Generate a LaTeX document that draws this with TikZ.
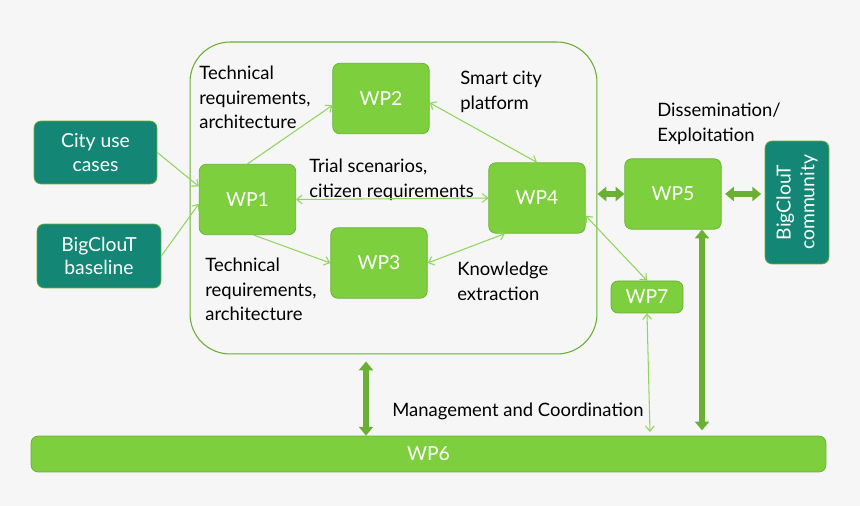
\documentclass[tikz,border=0pt]{standalone}
\usepackage{fontspec}
\setmainfont{Lato}
\usepackage{tikz}
\usetikzlibrary{arrows.meta,positioning,calc}
\definecolor{wpGreen}{RGB}{126,207,62}
\definecolor{wpEdge}{RGB}{104,174,50}
\definecolor{wpTeal}{RGB}{20,134,117}
\definecolor{wpLine}{RGB}{142,214,92}
\definecolor{wpBack}{RGB}{246,246,246}

\tikzset{
  wpbox/.style={draw=wpEdge, fill=wpGreen, rounded corners=4pt, text=white,
    minimum width=1.93cm, minimum height=1.41cm, font=\fontsize{11}{13}\selectfont},
  usecase/.style={draw=wpEdge, fill=wpTeal, rounded corners=4pt, text=white, align=center,
    font=\fontsize{11}{13.6}\selectfont},
  lbl/.style={anchor=north west, align=left, inner sep=0pt, font=\fontsize{10.5}{13.8}\selectfont},
  thinarrow/.style={draw=wpLine, line width=0.6pt, -{Straight Barb[length=3pt,width=5pt]}},
  thinboth/.style={draw=wpLine, line width=0.6pt, {Straight Barb[length=3pt,width=5pt]}-{Straight Barb[length=3pt,width=5pt]}},
  fatarrow/.style={draw=wpEdge!90!wpGreen, line width=3pt,
    {Triangle[length=5pt,width=8pt]}-{Triangle[length=5pt,width=8pt]}}
}

\begin{document}
\begin{tikzpicture}[x=0.02cm, y=-0.02cm]
  % background
  \fill[wpBack] (0,0) rectangle (860,506);
  \useasboundingbox (0,0) rectangle (860,506);
  % Trial frame
  \node[draw=wpEdge, line width=0.6pt, rounded corners=0.8cm, minimum width=8.14cm, minimum height=6.24cm] (frame) at (393.5,198) {};
  % Work packages
  \node[wpbox] (wp1) at (247.5,199.5) {WP1};
  \node[wpbox] (wp2) at (381,98.5) {WP2};
  \node[wpbox] (wp3) at (379,263) {WP3};
  \node[wpbox] (wp4) at (537,198) {WP4};
  \node[wpbox] (wp5) at (673,194) {WP5};
  \node[wpbox, minimum width=1.44cm, minimum height=0.64cm] (wp7) at (647,297) {WP7};
  \node[wpbox, minimum width=15.9cm, minimum height=0.72cm] (wp6) at (428.5,454) {WP6};
  % Inputs and community
  \node[usecase, minimum width=2.46cm, minimum height=1.26cm] (city) at (95.5,152.5) {City use\\cases};
  \node[usecase, minimum width=2.48cm, minimum height=1.28cm] (base) at (99,256) {BigClouT\\baseline};
  \node[usecase, rotate=90, minimum width=2.46cm, minimum height=1.28cm] (comm) at (797,202.5) {BigClouT\\community};
  % Labels
  \node[lbl] (tech1) at (199,66) {Technical\\requirements,\\architecture};
  \node[lbl] (smart) at (460,71) {Smart city\\platform};
  \node[lbl] (trial) at (309,159) {Trial scenarios,\\citizen requirements};
  \node[lbl] (tech2) at (205,258) {Technical\\requirements,\\architecture};
  \node[lbl] (know) at (457,262) {Knowledge\\extraction};
  \node[lbl] (dissem) at (657,103) {Dissemination/\\Exploitation};
  \node[lbl, anchor=west] (mgmt) at (392,411) {Management and Coordination};
  % Coordinates for vertical links
  \coordinate (mc) at (366,0);
  \coordinate (m5) at (702,0);
  \coordinate (m7) at (650,432);
  % Thin links
  \draw[thinarrow] (city.east) -- (wp1.165);
  \draw[thinarrow] (base.east) -- (wp1.185);
  \draw[thinarrow] (wp1.north) -- (wp2.-172);
  \draw[thinarrow] (wp1.-80) -- (wp3.west);
  \draw[thinboth] (wp4.west) -- (wp1.east);
  \draw[thinboth] (wp2.-5) -- (wp4.north);
  \draw[thinboth] (wp4.-132) -- (wp3.east);
  \draw[thinboth] (wp4.-20) -- (wp7.north);
  \draw[thinboth] (wp7.south) -- (m7);
  % Fat links
  \draw[fatarrow] (frame.east |- wp5.west) -- (wp5.west);
  \draw[fatarrow, shorten <=2pt, shorten >=2pt] (wp5.east) -- (wp5.east -| comm.north);
  \draw[fatarrow, shorten <=4pt] (frame.south -| mc) -- (wp6.north -| mc);
  \draw[fatarrow, shorten >=3pt] (wp5.south -| m5) -- (wp6.north -| m5);
\end{tikzpicture}
\end{document}
